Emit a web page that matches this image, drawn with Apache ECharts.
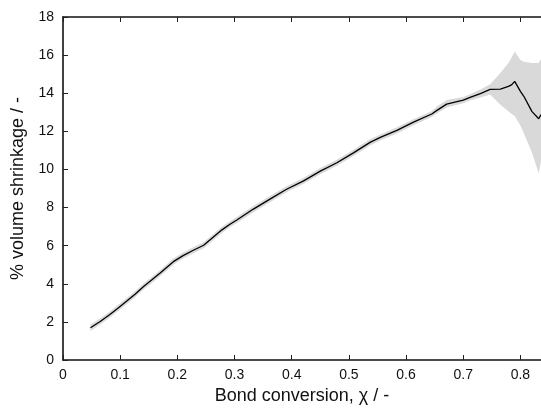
<!DOCTYPE html>
<html><head><meta charset="utf-8">
<script src="https://cdn.jsdelivr.net/npm/echarts@6/dist/echarts.min.js"></script>
<style>html,body{margin:0;padding:0;background:#fff}#c{width:541px;height:410px}</style>
</head><body><div id="c"></div>
<script>
var conversion = [0.048,0.065,0.082,0.096,0.111,0.126,0.141,0.156,0.170,0.193,0.210,0.228,0.246,0.263,0.278,0.292,0.304,0.333,0.362,0.391,0.420,0.450,0.479,0.508,0.537,0.555,0.584,0.613,0.645,0.654,0.671,0.700,0.712,0.730,0.747,0.765,0.779,0.785,0.790,0.800,0.806,0.820,0.832,0.836];
var shrinkage  = [1.69,2.02,2.39,2.72,3.08,3.45,3.86,4.22,4.56,5.16,5.48,5.76,6.02,6.45,6.83,7.12,7.35,7.92,8.44,8.96,9.39,9.91,10.35,10.87,11.42,11.68,12.05,12.48,12.91,13.10,13.43,13.64,13.78,13.98,14.20,14.22,14.36,14.45,14.62,14.10,13.84,13.05,12.66,12.88];
var lowerBound = [1.52,1.86,2.23,2.56,2.92,3.29,3.70,4.06,4.40,5.00,5.32,5.60,5.86,6.29,6.67,6.96,7.19,7.76,8.28,8.80,9.23,9.75,10.19,10.71,11.26,11.52,11.89,12.32,12.75,12.93,13.25,13.48,13.62,13.78,13.93,13.40,13.06,12.90,12.80,12.30,11.90,10.90,9.80,10.40];
var upperBound = [1.86,2.18,2.55,2.88,3.24,3.61,4.02,4.38,4.72,5.32,5.64,5.92,6.18,6.61,6.99,7.28,7.51,8.08,8.60,9.12,9.55,10.07,10.51,11.03,11.58,11.84,12.21,12.64,13.07,13.30,13.65,13.80,13.94,14.20,14.47,15.06,15.58,15.90,16.19,15.75,15.65,15.58,15.58,15.80];
var xTicks = {min:0, max:0.836, step:0.1};
var yTicks = {min:0, max:18, step:2};

var bandData = conversion.map(function(x,i){return [x, lowerBound[i], upperBound[i]];});
var lineData = conversion.map(function(x,i){return [x, shrinkage[i]];});

var font = 'Liberation Sans, Arial, Helvetica, sans-serif';
var axisLine = {show:true, lineStyle:{color:'#111', width:1.6}};
var chart = echarts.init(document.getElementById('c'), null, {renderer:'canvas'});
chart.setOption({
  animation:false,
  grid:{left:63, top:17, right:0, bottom:48, containLabel:false},
  xAxis:[{
    type:'value', min:xTicks.min, max:xTicks.max, interval:xTicks.step,
    axisLine:axisLine,
    axisTick:{show:true, inside:true, length:5, lineStyle:{color:'#222', width:1}},
    axisLabel:{color:'#111', fontSize:14, fontFamily:font, margin:8, showMaxLabel:false,
      formatter:function(v){return v===0?'0':(+v.toFixed(1)).toString();}},
    splitLine:{show:false},
    name:'Bond conversion, \u03c7 / -', nameLocation:'middle', nameGap:27,
    nameTextStyle:{color:'#111', fontSize:18, fontFamily:font}
  },{
    type:'value', position:'top', min:xTicks.min, max:xTicks.max, interval:xTicks.step,
    axisLine:axisLine,
    axisTick:{show:true, inside:true, length:5, lineStyle:{color:'#222', width:1}},
    axisLabel:{show:false}, splitLine:{show:false}
  }],
  yAxis:{
    type:'value', min:yTicks.min, max:yTicks.max, interval:yTicks.step,
    axisLine:axisLine,
    axisTick:{show:true, inside:true, length:5, lineStyle:{color:'#222', width:1}},
    axisLabel:{color:'#111', fontSize:14, fontFamily:font, margin:9},
    splitLine:{show:false},
    name:'% volume shrinkage / -', nameLocation:'middle', nameGap:33,
    nameTextStyle:{color:'#111', fontSize:18, fontFamily:font}
  },
  series:[
    {type:'custom', silent:true, data:[0], clip:true,
     renderItem:function(params, api){
       var top = [], bot = [];
       for (var i=0;i<bandData.length;i++){
         top.push(api.coord([bandData[i][0], bandData[i][2]]));
         bot.unshift(api.coord([bandData[i][0], bandData[i][1]]));
       }
       return {type:'polygon', shape:{points:top.concat(bot)}, style:{fill:'#d9d9d9', stroke:'none'}};
     }},
    {type:'line', data:lineData, symbol:'none', lineStyle:{color:'#000', width:1.3}, z:3}
  ]
});
</script></body></html>
